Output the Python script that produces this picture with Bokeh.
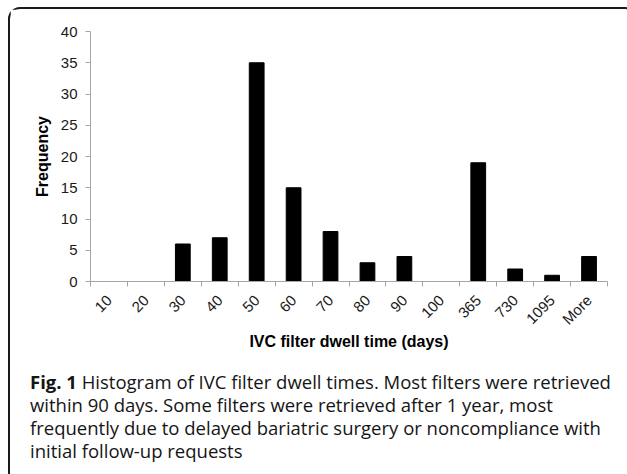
import math
from bokeh.plotting import figure
from bokeh.models import Range1d, FixedTicker, Div
from bokeh.layouts import column
from bokeh.embed import file_html
from bokeh.resources import INLINE

# ---- data ----
categories = ["10", "20", "30", "40", "50", "60", "70", "80", "90", "100",
              "365", "730", "1095", "More"]
frequency = [0, 0, 6, 7, 35, 15, 8, 3, 4, 0, 19, 2, 1, 4]
y_ticks = [0, 5, 10, 15, 20, 25, 30, 35, 40]
x_title = "IVC filter dwell time (days)"
y_title = "Frequency"
caption_bold = "Fig. 1"
caption_lines = [
    "Histogram of IVC filter dwell times. Most filters were retrieved",
    "within 90 days. Some filters were retrieved after 1 year, most",
    "frequently due to delayed bariatric surgery or noncompliance with",
    "initial follow-up requests",
]

# ---- layout ----
W = 615            # inner width of the bordered box
HC = 356           # chart height
HCAP = 107         # caption height
FL, FR, FT = 80, 18, 22
FB = HC - FT - 250
AXIS_GRAY = "#a6a6a6"
FONT = "Liberation Sans"

n = len(categories)
centers = [i + 0.5 for i in range(n)]
bounds = list(range(n + 1))

p = figure(width=W, height=HC, output_backend="svg", toolbar_location=None,
           x_range=Range1d(0, n), y_range=Range1d(0, 40),
           min_border_left=FL, min_border_right=FR,
           min_border_top=FT, min_border_bottom=FB)
p.outline_line_color = None
p.grid.visible = False
p.background_fill_color = "white"
p.border_fill_color = "white"

p.vbar(x=centers, top=frequency, width=0.4, fill_color="black", line_color="black")

# x axis
xa = p.xaxis[0]
xa.ticker = FixedTicker(ticks=centers, minor_ticks=bounds)
xa.major_label_overrides = {c: lab for c, lab in zip(centers, categories)}
xa.major_tick_line_color = None
xa.major_tick_out = 0
xa.major_tick_in = 0
xa.minor_tick_line_color = AXIS_GRAY
xa.minor_tick_out = 5
xa.minor_tick_in = 0
xa.axis_line_color = AXIS_GRAY
xa.major_label_orientation = math.pi / 4
xa.major_label_standoff = 11
xa.major_label_text_font = FONT
xa.major_label_text_font_size = "15px"
xa.major_label_text_color = "#1a1a1a"
xa.axis_label = x_title
xa.axis_label_text_font = FONT
xa.axis_label_text_font_size = "16px"
xa.axis_label_text_font_style = "bold"
xa.axis_label_text_color = "black"
xa.axis_label_standoff = -4

# y axis
ya = p.yaxis[0]
ya.ticker = FixedTicker(ticks=y_ticks)
ya.major_tick_line_color = AXIS_GRAY
ya.major_tick_out = 5
ya.major_tick_in = 0
ya.minor_tick_line_color = None
ya.axis_line_color = AXIS_GRAY
ya.major_label_standoff = 8
ya.major_label_text_font = FONT
ya.major_label_text_font_size = "15px"
ya.major_label_text_color = "#1a1a1a"
ya.axis_label = y_title
ya.axis_label_text_font = FONT
ya.axis_label_text_font_size = "16px"
ya.axis_label_text_font_style = "bold"
ya.axis_label_text_color = "black"
ya.axis_label_standoff = 7

# caption (real HTML text)
first = "<b>%s</b> %s" % (caption_bold, caption_lines[0])
html = "<br>".join([first] + caption_lines[1:])
cap_html = ('<div style="margin:0 0 0 15px; font-family:\'Open Sans\'; '
            'font-size:18.5px; line-height:23px; color:#151515; '
            'white-space:nowrap;">%s</div>' % html)
cap = Div(text=cap_html, width=W, height=HCAP)

layout = column(p, cap, spacing=0,
                styles={"margin": "7px 0 0 8px", "border": "2px solid #1a1a1a",
                        "border-radius": "12px", "background-color": "white"})

open("out.html", "w").write(file_html(layout, INLINE))
